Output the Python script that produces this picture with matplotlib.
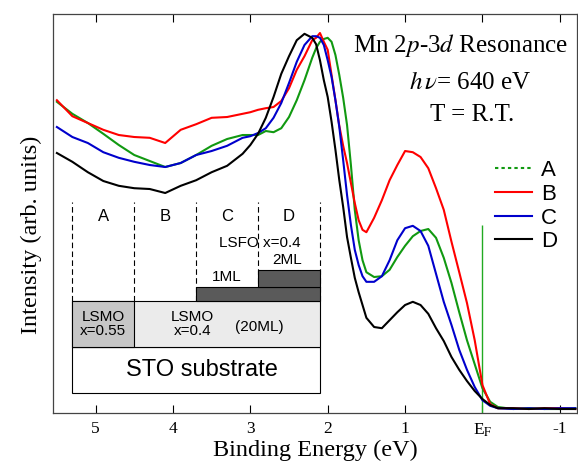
import matplotlib
matplotlib.use('Agg')
import matplotlib.pyplot as plt
from matplotlib.lines import Line2D
from matplotlib.patches import Rectangle

plt.rcParams['mathtext.fontset'] = 'stix'

# binding energy grid (eV) and intensities (arb. units)
energy = [5.5, 5.3, 5.1, 4.9, 4.7, 4.5, 4.3, 4.1, 3.9, 3.7, 3.5, 3.3, 3.1,
          3.0, 2.9, 2.8, 2.7, 2.6, 2.5, 2.4, 2.3, 2.2,
          2.15, 2.1, 2.05, 2.0, 1.95, 1.9, 1.85, 1.8, 1.75, 1.7, 1.65, 1.6, 1.55, 1.5,
          1.4, 1.3, 1.2, 1.1, 1.0, 0.9, 0.8, 0.7, 0.6, 0.5, 0.4, 0.3, 0.2, 0.1, 0.0, -0.1, -0.2,
          -0.4, -0.6, -0.8, -1.0, -1.2]

int_a = [77.8, 74.8, 72.5, 69.8, 67.0, 64.5, 63.0, 61.5, 62.5, 64.5, 66.8, 68.5, 69.5,
         69.5, 69.5, 70.5, 70.2, 71.2, 74.0, 78.2, 83.2, 88.8,
         91.2, 92.8, 93.5, 93.8, 92.8, 89.5, 84.5, 78.8, 72.0, 62.0, 50.8, 43.2, 38.2, 35.2,
         34.0, 34.2, 35.8, 39.0, 41.8, 44.2, 45.5, 46.0, 43.8, 38.8, 32.5, 25.2, 18.2, 12.2, 6.2, 2.8, 1.5,
         1.0, 1.2, 1.0, 1.0, 1.2]

int_b = [78.2, 74.2, 72.5, 70.8, 69.5, 69.0, 68.8, 67.5, 70.8, 72.2, 73.8, 74.0, 74.8,
         75.2, 75.8, 76.2, 76.5, 78.0, 81.2, 85.8, 89.2, 93.2,
         93.8, 95.0, 92.8, 90.8, 84.5, 78.2, 71.8, 66.8, 62.5, 57.5, 52.5, 48.2, 45.8, 45.2,
         48.8, 53.2, 58.2, 62.0, 65.5, 65.2, 64.0, 61.2, 56.2, 50.8, 42.8, 35.2, 27.5, 18.2, 7.0, 2.2, 1.2,
         1.2, 1.0, 1.2, 1.2, 1.0]

int_c = [71.5, 69.0, 67.5, 65.2, 63.8, 62.8, 62.0, 61.5, 62.5, 64.5, 65.5, 66.8, 68.8,
         69.2, 70.0, 71.2, 73.8, 77.5, 82.5, 87.8, 92.0, 94.2,
         94.2, 93.8, 92.0, 88.2, 84.0, 78.2, 71.5, 63.2, 54.5, 47.0, 40.8, 37.0, 34.2, 32.8,
         32.8, 34.2, 38.2, 43.2, 46.2, 46.8, 45.5, 41.8, 34.8, 27.8, 22.0, 15.8, 10.8, 6.5, 3.2, 1.8, 1.2,
         1.0, 1.2, 1.0, 1.2, 1.2]

int_d = [65.0, 62.8, 60.2, 58.0, 56.8, 56.2, 56.0, 55.0, 56.8, 58.2, 60.2, 61.8, 64.8,
         67.0, 69.8, 73.8, 79.0, 84.8, 89.2, 93.2, 94.8, 93.8,
         92.2, 88.2, 83.2, 79.0, 72.8, 65.8, 58.2, 51.5, 44.0, 38.8, 33.8, 30.2, 27.0, 23.8,
         21.5, 21.2, 23.2, 25.2, 27.0, 27.8, 27.0, 24.8, 21.2, 18.0, 14.0, 10.8, 8.0, 5.5, 3.5, 2.0, 1.2,
         1.2, 1.0, 1.2, 1.0, 1.0]

labels = ['A', 'B', 'C', 'D']
colors = ['#119911', '#ff0000', '#0000cc', '#000000']
x_ticks = [5, 4, 3, 2, 1, 0, -1]
x_tick_labels = ['5', '4', '3', '2', '1', r'E$_\mathrm{F}$', '-1']

serif = 'Liberation Serif'
sans = 'Liberation Sans'

fig = plt.figure(figsize=(5.78, 4.66), dpi=100)
ax = fig.add_subplot(111)
fig.subplots_adjust(left=0.0924, right=0.998, bottom=0.1137, top=0.9708)

for y, c in zip([int_a, int_b, int_c, int_d], colors):
    ax.plot(energy, y, color=c, lw=1.5, zorder=3)

# Fermi level marker
ax.vlines(0, 0, 47, color='#22aa22', lw=1.0, zorder=2)

ax.set_xlim(5.545, -1.22)
ax.set_ylim(0, 99.85)
ax.set_xticks(x_ticks)
ax.set_xticklabels(x_tick_labels, fontfamily=serif, fontsize=12.5)
ax.set_yticks([])
ax.tick_params(axis='x', direction='in', top=True, length=6, width=0.8, pad=6)
for s in ax.spines.values():
    s.set_color('#444444')
    s.set_linewidth(0.9)

ax.set_xlabel('Binding Energy (eV)', fontfamily=serif, fontsize=17.5, labelpad=1)
ax.set_ylabel('Intensity (arb. units)', fontfamily=serif, fontsize=17.5)
ax.yaxis.set_label_coords(-0.022, 0.445)

# annotations
ax.text(0.778, 0.921, r'Mn 2$p$-3$d$ Resonance', transform=ax.transAxes,
        ha='center', va='center', fontfamily=serif, fontsize=18)
ax.text(0.796, 0.826, r'$h\,\nu$= 640 eV', transform=ax.transAxes,
        ha='center', va='center', fontfamily=serif, fontsize=18)
ax.text(0.799, 0.746, 'T = R.T.', transform=ax.transAxes,
        ha='center', va='center', fontfamily=serif, fontsize=18)

handles = [Line2D([], [], color=colors[0], lw=1.5, dashes=(1.6, 1.5)),
           Line2D([], [], color=colors[1], lw=1.5),
           Line2D([], [], color=colors[2], lw=1.5),
           Line2D([], [], color=colors[3], lw=1.5)]
ax.legend(handles, labels, loc='upper left', bbox_to_anchor=(0.843, 0.633),
          frameon=False, borderpad=0, borderaxespad=0, handlelength=1.7,
          handletextpad=0.4, labelspacing=0.12, prop={'family': sans, 'size': 16})

# sample schematic (inset, drawn in data units)
cols = [5.3, 4.5, 3.7, 2.9, 2.1]
y_sto, y_lsmo, y_ml1, y_ml2, y_ml2_top, y_dash = 4.9, 16.4, 27.9, 31.6, 35.75, 52.8
ax.add_patch(Rectangle((2.1, y_sto), 3.2, y_lsmo - y_sto, fc='white', ec='k', lw=0.8, zorder=1))
ax.add_patch(Rectangle((2.1, y_lsmo), 3.2, y_ml1 - y_lsmo, fc='#ebebeb', ec='k', lw=0.8, zorder=1))
ax.add_patch(Rectangle((4.5, y_lsmo), 0.8, y_ml1 - y_lsmo, fc='#c6c6c6', ec='k', lw=0.8, zorder=1))
ax.vlines(cols, y_ml1, y_dash, colors='k', lw=0.8, linestyles=(0, (5, 3)), zorder=1)
ax.add_patch(Rectangle((2.1, y_ml1), 1.6, y_ml2 - y_ml1, fc='#5a5a5a', ec='k', lw=0.8, zorder=1.5))
ax.add_patch(Rectangle((2.1, y_ml2), 0.8, y_ml2_top - y_ml2, fc='#5a5a5a', ec='k', lw=0.8, zorder=1.5))

for i, name in enumerate(['A', 'B', 'C', 'D']):
    ax.text((cols[i] + cols[i + 1]) / 2, 49.25, name, ha='center', va='center',
            fontfamily=sans, fontsize=12)
ax.text(2.88, 42.4, 'LSFO x=0.4', ha='center', va='center', fontfamily=sans, fontsize=11)
ax.text(2.52, 38.25, '2ML', ha='center', va='center', fontfamily=sans, fontsize=11)
ax.text(3.3, 34.0, '1ML', ha='center', va='center', fontfamily=sans, fontsize=11)
ax.text(4.9, 22.2, 'LSMO\nx=0.55', ha='center', va='center', fontfamily=sans,
        fontsize=11, linespacing=0.95)
ax.text(3.75, 22.2, 'LSMO\nx=0.4', ha='center', va='center', fontfamily=sans,
        fontsize=11, linespacing=0.95)
ax.text(2.88, 21.5, '(20ML)', ha='center', va='center', fontfamily=sans, fontsize=11)
ax.text(3.63, 10.75, 'STO substrate', ha='center', va='center', fontfamily=sans, fontsize=17)

fig.savefig('out.png', dpi=100)
